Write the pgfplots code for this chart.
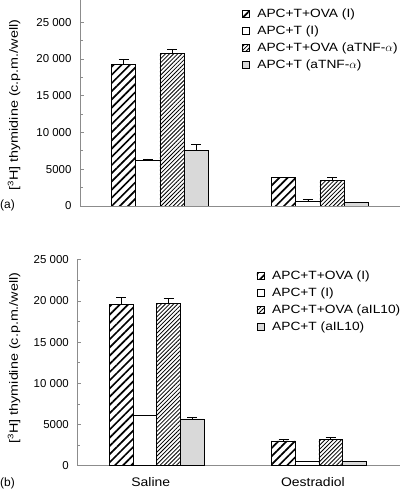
\documentclass[border=0pt]{standalone}
\usepackage{pgfplots}
\pgfplotsset{compat=1.18}
\usetikzlibrary{patterns.meta}
\usepackage{fontspec}
\setmainfont{Liberation Sans}
\newfontfamily\lgfont[FakeStretch=1.15]{Liberation Sans}
\newfontfamily\ylfont[FakeStretch=1.2]{Liberation Sans}
\newfontfamily\xlfont[FakeStretch=1.12]{Liberation Sans}
\definecolor{axgray}{HTML}{8C8C8C}
\definecolor{barfill}{HTML}{D9D9D9}
\tikzset{
 pA/.style={pattern={Lines[angle=45,distance=5.8bp,line width=1.7bp]}},
 pC/.style={pattern={Lines[angle=45,distance=2.9bp,line width=0.8bp]}},
}
\pgfplotsset{
 myax/.style={
  scale only axis,
  axis lines*=left,
  axis line style={draw=axgray, line width=0.9bp},
  tick style={draw=axgray, line width=0.7bp},
  tick align=inside,
  major tick length=4bp, minor tick length=2.5bp,
  ymin=0,
  scaled y ticks=false,
  ytick={0,5000,10000,15000,20000,25000},
  yticklabels={0,5000,10 000,15 000,20 000,25 000},
  minor y tick num=1,
  yticklabel shift=5bp,
  yticklabel style={font=\fontsize{11.5}{13}\selectfont},
  xticklabel style={font=\xlfont\fontsize{12.5}{14}\selectfont, xshift=-6bp},
  ylabel style={font=\ylfont\fontsize{12}{14}\selectfont},
  ylabel={[\textsuperscript{3}H] thymidine (c.p.m./well)},
  legend cell align=left,
  legend style={draw=none, fill=none, inner sep=0pt, row sep=2.7bp,
    font=\lgfont\fontsize{12}{14}\selectfont, anchor=north west,
    /tikz/every odd column/.append style={column sep=6bp}},
  legend image code/.code={\draw[##1, line width=0.6bp] (0bp,-3.5bp) rectangle (7bp,3.5bp);},
  error bars/y dir=plus, error bars/y explicit,
  error bars/error bar style={black, line width=0.6bp},
  error bars/error mark options={black, line width=0.6bp, mark size=5bp, rotate=90},
 },
 b1/.style={ybar, bar width=#1, bar shift=0, draw=black, line width=0.6bp, pA},
 b2/.style={ybar, bar width=#1, bar shift=0, draw=black, line width=0.6bp, fill=white},
 b3/.style={ybar, bar width=#1, bar shift=0, draw=black, line width=0.6bp, pC},
 b4/.style={ybar, bar width=#1, bar shift=0, draw=black, line width=0.6bp, fill=barfill},
}
\begin{document}
\begin{tikzpicture}
\useasboundingbox (0,0) rectangle (402bp,490bp);
% panel (a)
\begin{axis}[myax,
  at={(80bp,284bp)}, anchor=south west, width=320bp, height=206bp,
  xmin=-0.5, xmax=1.5, ymax=28000,
  xtick=\empty,
  ylabel style={at={(axis description cs:-0.206,0.49)}, anchor=center},
  legend style={at={(axis description cs:0.505,0.966)}},
]
\addplot[b1=0.1519] coordinates {(-0.2278,19250) +- (0,680) (0.7722,3850) +- (0,90)};
\addplot[b2=0.1519] coordinates {(-0.0759,6150) +- (0,240) (0.9241,640) +- (0,270)};
\addplot[b3=0.1519] coordinates {(0.0759,20750) +- (0,540) (1.0759,3440) +- (0,410)};
\addplot[b4=0.1519] coordinates {(0.2278,7560) +- (0,770) (1.2278,500) +- (0,0)};
\legend{APC+T+OVA (I),APC+T (I),APC+T+OVA (aTNF-$\alpha$),APC+T (aTNF-$\alpha$)}
\end{axis}
% panel (b)
\begin{axis}[myax,
  at={(77.3bp,24.3bp)}, anchor=south west, width=322.7bp, height=206bp,
  xmin=-0.49, xmax=1.5, ymax=25000,
  xtick={0,1}, xticklabels={Saline,Oestradiol},
  major x tick style={draw=none},
  xticklabel shift=8bp,
  ylabel style={at={(axis description cs:-0.196,0.523)}, anchor=center},
  legend style={at={(axis description cs:0.555,0.955)}},
]
\addplot[b1=0.1455] coordinates {(-0.2183,19590) +- (0,850) (0.7817,3000) +- (0,240)};
\addplot[b2=0.1455] coordinates {(-0.0728,6070) +- (0,80) (0.9272,530) +- (0,0)};
\addplot[b3=0.1455] coordinates {(0.0728,19710) +- (0,610) (1.0728,3240) +- (0,200)};
\addplot[b4=0.1455] coordinates {(0.2183,5670) +- (0,200) (1.2183,530) +- (0,0)};
\legend{APC+T+OVA (I),APC+T (I),APC+T+OVA (aIL10),APC+T (aIL10)}
\end{axis}
\node[anchor=west, inner sep=0pt, font=\fontsize{12}{14}\selectfont] at (0bp,285bp) {(a)};
\node[anchor=west, inner sep=0pt, font=\fontsize{12}{14}\selectfont] at (0bp,7bp) {(b)};
\end{tikzpicture}
\end{document}
